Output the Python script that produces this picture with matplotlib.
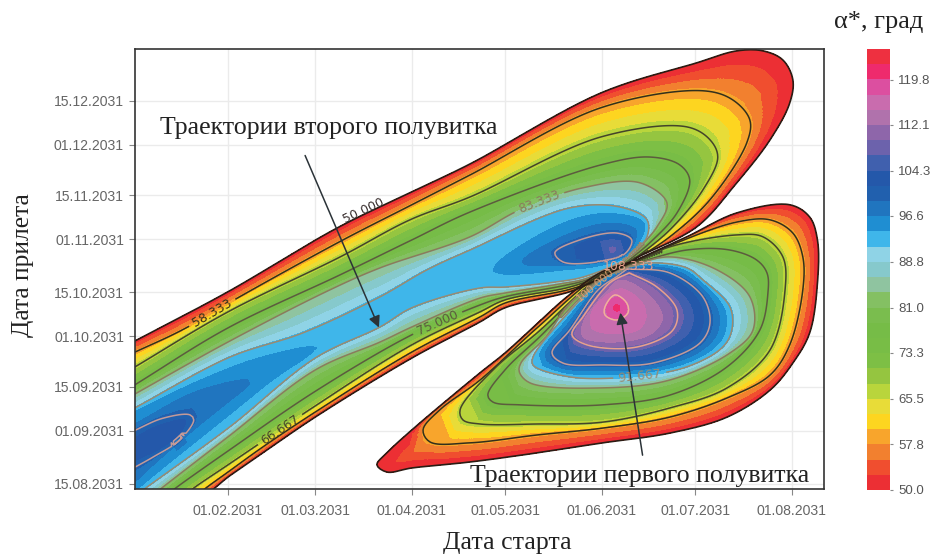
import matplotlib
matplotlib.use('Agg')
import matplotlib.pyplot as plt
import matplotlib.tri as mtri
from matplotlib.colors import ListedColormap, BoundaryNorm
from matplotlib.path import Path
import numpy as np

# x = days since 31.12.2030 (start date), y = days since 15.08.2031 (arrival date)
x_ticks = [31, 59, 90, 120, 151, 181, 212]
x_labels = ['01.02.2031', '01.03.2031', '01.04.2031', '01.05.2031', '01.06.2031', '01.07.2031', '01.08.2031']
y_ticks = [0, 17, 31, 47, 61, 78, 92, 108, 122]
y_labels = ['15.08.2031', '01.09.2031', '15.09.2031', '01.10.2031', '15.10.2031', '01.11.2031', '15.11.2031', '01.12.2031', '15.12.2031']
cb_ticks = [50.0, 57.8, 65.5, 73.3, 81.0, 88.8, 96.6, 104.3, 112.1, 119.8]

band_colors = ['#ec2f34', '#f04e2f', '#f2802f', '#f8a52c', '#fdd520', '#e8dc38', '#b9d53c', '#95c540',
               '#7dbf45', '#78bd46', '#76bc47', '#7abd4e', '#84c063', '#8fc4a0', '#86c9cc', '#8fd3e6',
               '#3fb6ea', '#1f8ed2', '#2075bf', '#2160ae', '#2458aa', '#4060ae', '#6c62ac', '#8e66aa',
               '#b072ac', '#c96cae', '#dc4fa0', '#ee2a6d', '#ee3040']
line_levels = [58.333, 66.667, 75, 83.333, 91.667, 100, 108.333, 116.667]
line_colors = ['#33301c', '#44442a', '#5c5c3e', '#8a7c5c', '#9a8a70', '#c49a98', '#e8a08c', '#f2b09a']

# upper lobe (second half-orbit): iso-value curves
up_50 = [(0.5, 45.2), (31, 61.2), (66, 81.5), (90, 93), (108.7, 101.9), (150.7, 124.5), (181.5, 134.1), (194.3, 137.9), (202.7, 137.9), (209.1, 135), (212.3, 128.7), (211.3, 121.3), (205, 109.6), (194.3, 95.9), (181.5, 81.9), (162.2, 72), (161, 71), (148, 64.3), (140.7, 61.2), (119.9, 56.1), (111.9, 51.6), (90, 40.1), (59, 21.3), (42.2, 9.9), (31, 2.2), (27.1, -1), (25.2, -2.5)]
up_58 = [(0.5, 41.7), (16.2, 49), (35.8, 60.2), (67.9, 77.7), (90, 88.9), (108.7, 98.4), (150.7, 119.8), (183.4, 125.2), (193, 122.3), (198.5, 115.9), (197.5, 108.6), (185.7, 90.5), (172.8, 78.7), (162.5, 72), (160.3, 70.9), (147.5, 64.3), (140, 61.8), (119.9, 57.6), (111.9, 53.2), (90, 42), (59, 22.9), (42.2, 11.8), (31, 3.8), (24.3, -1), (22.4, -2.5)]
up_66 = [(0.5, 36.9), (31, 54.8), (67, 72.3), (89.4, 84.1), (108.7, 91.4), (150.7, 110.5), (178.3, 113.7), (185.7, 109.6), (188.2, 104.1), (183.4, 93.6), (172.8, 80.9), (162.2, 72.3), (159.7, 70.7), (146.8, 64.7), (139.5, 62.4), (119.9, 58.6), (111.9, 54.8), (90, 44.3), (58, 24.2), (38, 10.8), (31, 6.1), (20.4, -1), (18.5, -2.5)]
up_75 = [(0.5, 31.2), (31, 49.7), (67, 66.6), (90, 77.7), (108.7, 86.6), (150.7, 101.6), (166.4, 104.1), (176, 101.6), (179.2, 96.8), (175.1, 86.3), (166.4, 76.8), (159, 70.7), (146.2, 65), (138.5, 63.1), (119.9, 59.6), (111.9, 57), (90, 47.5), (59, 29.5), (31, 10.5), (14.6, -1), (12.7, -2.5)]
up_83 = [(0.5, 28.3), (31, 45.2), (63.7, 61.8), (79.8, 68.8), (108.7, 78.7), (124.7, 87.3), (144.9, 94.3), (163.2, 95.9), (171.9, 89.5), (168.7, 81.9), (163.2, 75.5), (158.4, 71), (145.6, 65.3), (137.5, 63.7), (119.9, 60.8), (111.9, 59.2), (90, 50), (79.8, 45.2), (59, 36.3), (31, 15), (10.1, -1), (8.2, -2.5)]
up_91 = [(0.5, 23.9), (31.6, 40.4), (55, 48.1), (79.8, 59.6), (94.9, 68.2), (108.7, 74.5), (140.7, 87.9), (156.8, 88.2), (165.5, 84.1), (165.5, 78.7), (161.6, 73.9), (157.8, 71), (145, 65.9), (136, 64.3), (119.9, 62.7), (111.9, 62.4), (90, 56.1), (79.8, 50), (59, 40.1), (31.6, 18.2), (5, -1), (3, -2.5)]
# ridge of the blue corridor and the closed patches inside it
up_ridge = [(63.7, 45.2), (79.8, 53.8), (89.4, 59.9), (102.2, 64), (112, 66.5)]
left_94 = [(0.5, 22.5), (21, 32.2), (42.2, 40), (58, 42.7), (44.5, 33), (31, 22.3), (10, 5.4), (0.5, -2.5)]
left_97 = [(0.5, 18), (21, 29), (37, 32), (31, 26.8), (21, 18.8), (8, 7.6), (0.5, 0.6)]
left_100 = [(0.5, 16.8), (10, 20.9), (18.8, 22), (20, 20.4), (15.5, 14), (7, 8.6), (0.5, 5)]
left_102 = [(0.5, 14), (8, 18), (17, 20), (15.5, 16.5), (10, 12), (0.5, 7.5)]
right_94 = [(117.6, 68.2), (135.3, 80.9), (151.3, 85.7), (164.2, 83.1), (163.2, 77.7), (158.4, 72.3), (150.4, 69.8), (140.7, 68.8)]
right_97 = [(126.3, 70.7), (137.5, 77.7), (153.6, 82.5), (161.6, 80.3), (159.4, 73.9), (150.4, 70.7), (137.5, 69.8)]
right_100 = [(135.9, 73.6), (143.9, 77.7), (155.8, 79.9), (160.6, 77.7), (158.4, 73.3), (149.4, 70.7), (138.5, 70.7)]
right_104 = [(145, 75), (154, 78), (159, 76.5), (156, 72.5), (147, 72)]
up_peaks = [(4, 13, 103), (154.5, 74.5, 108)]

# lower lobe (first half-orbit): closed curves starting at the pinch
lo_50 = [(161.3, 71), (178.3, 78.7), (194.3, 86.3), (211.3, 88.9), (217.7, 85), (220.2, 77.7), (220.2, 64), (217.7, 48.1), (212.3, 38.5), (205, 29.9), (191.2, 21.3), (172.8, 16.2), (151.3, 13.1), (130.2, 9.9), (108.7, 7), (90, 5.1), (82, 3.8), (78.8, 6.1), (82, 9.9), (90, 17.2), (111.9, 35.4), (119.9, 41.7), (139.8, 59.6), (150.4, 67.2)]
lo_58 = [(161, 70.4), (175.1, 76.8), (194.3, 83.4), (205, 84.1), (212.3, 79.9), (215.5, 72.3), (215.5, 61.8), (211.3, 44.3), (205, 34.7), (191.2, 27.4), (172.8, 21.3), (151.3, 17.8), (130.2, 15.6), (108.7, 13.1), (95.8, 13.4), (93.6, 17.2), (99, 23.6), (111.9, 33.1), (130.2, 49.7), (150.4, 66.6)]
lo_66 = [(160.6, 70.1), (172.8, 75.5), (194.3, 79.3), (202.7, 78.7), (209.1, 72.3), (209.8, 61.8), (205, 42.7), (191.2, 30.6), (172.8, 24.2), (151.3, 19.7), (130.2, 19.1), (111.9, 19.1), (106.4, 20.4), (105.5, 23.6), (116.7, 36.9), (130.2, 48.1), (150.4, 65.9)]
lo_75 = [(160.2, 69.8), (178.3, 74.5), (192, 74.5), (200.7, 71.3), (204, 67.2), (204.3, 60.8), (201.7, 49), (191.2, 37.3), (172.8, 28.3), (151.3, 25.2), (124.7, 25.2), (116, 26.1), (114.4, 28.3), (119.9, 36.3), (131, 46.8), (150.4, 65.3)]
lo_83 = [(159.9, 69.4), (172.8, 72.3), (187.9, 68.2), (198.5, 59.6), (199.5, 49), (192.1, 41.7), (172.8, 33.1), (151.3, 30.6), (127.9, 32.2), (124.5, 35.7), (125, 38.5), (133.2, 47), (139.8, 56.4), (150, 64.9)]
lo_91 = [(159.6, 69.1), (167.2, 70.4), (178.3, 68.8), (183.4, 65), (192.1, 56.4), (192.7, 49), (189.8, 43.6), (178.3, 37.3), (160, 34.1), (140.7, 34.1), (128.9, 37.9), (128.9, 40.4), (141, 55.4), (151.5, 65.5)]
lo_100 = [(159.2, 68.5), (172.8, 67.2), (183.4, 59.6), (185.7, 51.3), (182.5, 44.9), (167.4, 38.5), (151.3, 37.9), (138.5, 38.5), (135, 41.7), (140.7, 49), (149.8, 61.8), (156, 66.2)]
lo_108 = [(159.8, 67.2), (168.7, 62.7), (175.1, 55.4), (173.8, 49), (162.2, 43.6), (146.2, 44.3), (141.4, 47.5), (144.9, 53.2), (153.5, 64)]
lo_112 = [(156.8, 65), (165.5, 60.8), (170.6, 53.2), (167.4, 48.1), (156.8, 45.2), (144.9, 46.8), (144.9, 51.3), (153, 61.8)]
lo_115 = [(156.8, 61.8), (164.2, 56.4), (163.2, 50), (155.8, 48.1), (148.1, 50), (148.1, 55.4)]
lo_116 = [(155.2, 60.2), (159, 57.6), (159.4, 54.5), (155.8, 52.2), (152, 53.8), (152, 56.4)]
lo_peaks = [(155.8, 56.1, 121), (83.5, 6.3, 52), (90, 9.5, 54.5)]

pinch = np.array([161, 71])


def smooth(pts, closed=False, step=0.8):
    # centripetal Catmull-Rom through the points
    p = np.array(pts, dtype=float)
    if closed:
        p = np.vstack([p[-1], p, p[0], p[1]])
    else:
        p = np.vstack([2 * p[0] - p[1], p, 2 * p[-1] - p[-2]])
    out = []
    for i in range(len(p) - 3):
        p0, p1, p2, p3 = p[i:i + 4]
        t1 = np.hypot(*(p1 - p0)) ** 0.5
        t2 = t1 + np.hypot(*(p2 - p1)) ** 0.5
        t3 = t2 + np.hypot(*(p3 - p2)) ** 0.5
        n = max(int(np.hypot(*(p2 - p1)) / step), 2)
        t = np.linspace(t1, t2, n, endpoint=False)[:, None]
        a1 = (t1 - t) / t1 * p0 + t / t1 * p1
        a2 = (t2 - t) / (t2 - t1) * p1 + (t - t1) / (t2 - t1) * p2
        a3 = (t3 - t) / (t3 - t2) * p2 + (t - t2) / (t3 - t2) * p3
        b1 = (t2 - t) / t2 * a1 + t / t2 * a2
        b2 = (t3 - t) / (t3 - t1) * a2 + (t - t1) / (t3 - t1) * a3
        out.append((t2 - t) / (t2 - t1) * b1 + (t - t1) / (t2 - t1) * b2)
    out.append(p[-3 if closed else -2][None, :])
    return np.vstack(out)


def open_line(pts):
    # keep the sharp corner at the pinch
    k = np.argmin(np.hypot(*(np.array(pts) - pinch).T))
    return np.vstack([smooth(pts[:k + 1]), smooth(pts[k:])])


def pinched(pts):
    return smooth(list(pts) + [pts[0]])


def loop(pts):
    return smooth(pts, closed=True)


def triang(curves, extra, outline):
    xy = np.vstack([c[0] for c in curves] + [np.array(extra)[:, :2]])
    z = np.concatenate([np.full(len(c[0]), c[1]) for c in curves] + [np.array(extra)[:, 2]])
    xy, idx = np.unique(np.round(xy, 3), axis=0, return_index=True)
    z = z[idx]
    tri = mtri.Triangulation(xy[:, 0], xy[:, 1])
    mid = xy[tri.triangles].mean(axis=1)
    tri.set_mask(~Path(outline).contains_points(mid))
    return tri, z


up_edge = open_line(up_50)
lo_edge = pinched(lo_50)
upper = [(up_edge, 50), (open_line(up_58), 58.333), (open_line(up_66), 66.667),
         (open_line(up_75), 75), (open_line(up_83), 83.333), (open_line(up_91), 91.667),
         (smooth(up_ridge), 93), (smooth(left_94), 94.3), (smooth(left_97), 97), (smooth(left_100), 100),
         (smooth(left_102), 102), (loop(right_94), 94.3), (loop(right_97), 97), (loop(right_100), 100),
         (loop(right_104), 104)]
lower = [(lo_edge, 50), (pinched(lo_58), 58.333), (pinched(lo_66), 66.667), (pinched(lo_75), 75),
         (pinched(lo_83), 83.333), (pinched(lo_91), 91.667), (pinched(lo_100), 100), (pinched(lo_108), 108.333),
         (loop(lo_112), 112), (loop(lo_115), 115), (loop(lo_116), 116.667)]

tri_up, z_up = triang(upper, up_peaks, np.vstack([up_edge, [[0.5, -2.5]]]))
tri_lo, z_lo = triang(lower, lo_peaks, lo_edge)

fill_levels = np.linspace(50, 125, 30)
cmap = ListedColormap(band_colors)
norm = BoundaryNorm(fill_levels, cmap.N)

fig = plt.figure(figsize=(9.35, 5.58), dpi=100)
ax = fig.add_axes([135 / 935, 1 - 489 / 558, 689 / 935, 440 / 558])
ax.set_axisbelow(True)
ax.grid(color='#ebebeb', lw=1)

cf = ax.tricontourf(tri_up, z_up, fill_levels, cmap=cmap, norm=norm)
ax.tricontourf(tri_lo, z_lo, fill_levels, cmap=cmap, norm=norm)
lines_up = ax.tricontour(tri_up, z_up, line_levels[:6], colors=line_colors[:6], linewidths=1.1)
lines_lo = ax.tricontour(tri_lo, z_lo, line_levels, colors=line_colors, linewidths=1.1)

# the 50 boundary sits exactly on the edge of the triangulation
ax.plot(*up_edge.T, color='#2a1c14', lw=1.2)
ax.plot(*lo_edge.T, color='#2a1c14', lw=1.2)

ax.clabel(lines_up, fmt='%.3f', fontsize=9, inline=True,
          manual=[(25.9, 54.6), (47.7, 17.3), (98.4, 51), (131, 89.5)])
ax.clabel(lines_lo, fmt='%.3f', fontsize=9, inline=True, manual=[(163.2, 34.2)])
ax.text(74.4, 87, '50.000', color='#3a3030', fontsize=9, ha='center', va='center', rotation=25)
ax.text(159.6, 69.1, '108.333', color='#e8a08c', fontsize=9, ha='center', va='center')
ax.text(149, 63.5, '100.000', color='#e0a070', fontsize=8, ha='center', va='center', rotation=40)

ax.annotate('', xy=(79.8, 49), xytext=(55.4, 105.4),
            arrowprops=dict(arrowstyle='-|>', color='#2b3338', lw=1.1, mutation_scale=17))
ax.annotate('', xy=(156.8, 55.4), xytext=(164.2, 8.3),
            arrowprops=dict(arrowstyle='-|>', color='#2b3338', lw=1.1, mutation_scale=17))

ax.set_xlim(1.15, 222.3)
ax.set_ylim(-1.6, 138.5)
ax.set_xticks(x_ticks, x_labels)
ax.set_yticks(y_ticks, y_labels)
ax.tick_params(colors='#888888', labelcolor='#666666', labelsize=10.1, length=4, width=0.8)
ax.tick_params(axis='x', pad=7)
ax.tick_params(axis='y', pad=4)
plt.setp(ax.get_xticklabels() + ax.get_yticklabels(), family='Liberation Sans')
for s in ax.spines.values():
    s.set_color('#333333')
    s.set_linewidth(1.2)

cax = fig.add_axes([867 / 935, 1 - 490 / 558, 23 / 935, 441 / 558])
cb = fig.colorbar(cf, cax=cax, spacing='proportional')
cb.set_ticks(cb_ticks, labels=['%.1f' % v for v in cb_ticks])
cb.minorticks_off()
cb.ax.tick_params(colors='#888888', labelcolor='#555555', labelsize=9.5, length=2, width=0.8, pad=4)
cb.outline.set_visible(False)
plt.setp(cb.ax.get_yticklabels(), family='Liberation Sans')

serif = dict(family='Liberation Serif', color='#222222')
fig.text(160 / 935, 1 - 128 / 558, 'Траектории второго полувитка', fontsize=18.6, va='center', **serif)
fig.text(470 / 935, 1 - 476 / 558, 'Траектории первого полувитка', fontsize=18.6, va='center', **serif)
fig.text(507 / 935, 1 - 543 / 558, 'Дата старта', fontsize=18.5, ha='center', va='center', **serif)
fig.text(23 / 935, 1 - 265 / 558, 'Дата прилета', fontsize=18.4, ha='center', va='center', rotation=90, **serif)
fig.text(879 / 935, 1 - 22 / 558, 'α*, град', fontsize=19, ha='center', va='center', **serif)

fig.savefig('out.png', dpi=100)
